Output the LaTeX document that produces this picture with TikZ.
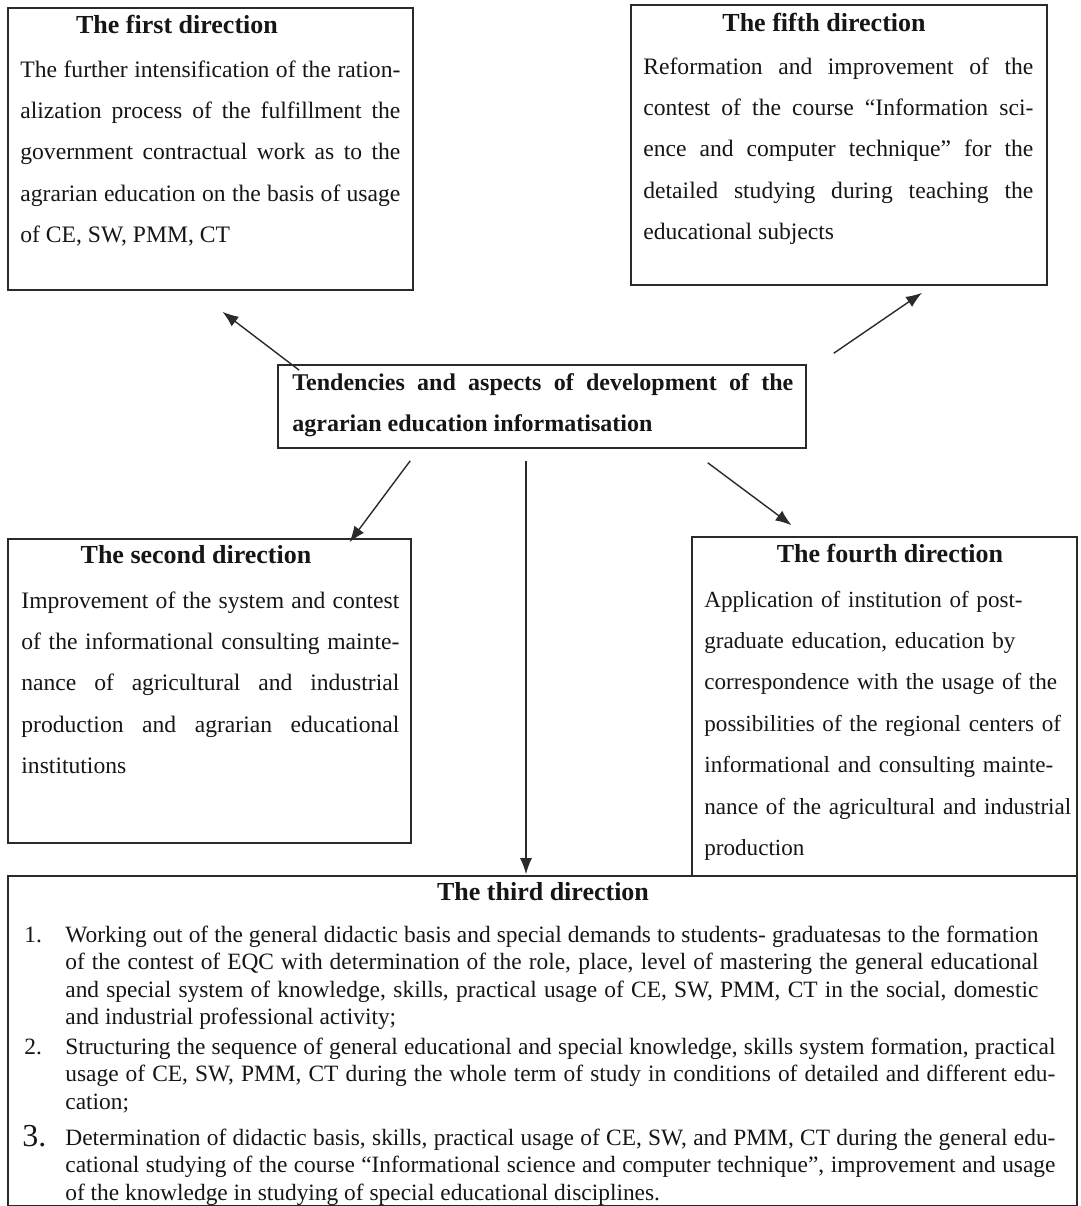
\documentclass[tikz,border=0pt]{standalone}
\usepackage{fontspec}
\setmainfont{Liberation Serif}
\usepackage{tikz}
\usetikzlibrary{arrows.meta,fit,calc}
\definecolor{ink}{HTML}{161616}
\definecolor{frame}{HTML}{2A2A2A}
\hyphenpenalty=10000
\tolerance=9999
\tikzset{
  >={Latex[length=8pt,width=6pt]},
  dirbox/.style={draw=frame,inner sep=0pt,line width=0.8pt},
  dirtitle/.style={inner sep=0pt,anchor=base,text=ink,font=\fontsize{13}{15}\selectfont\bfseries},
  dirtext/.style={inner sep=0pt,anchor=base west,text=ink,align=justify,font=\fontsize{11.8}{20.7}\selectfont},
  hubtext/.style={dirtext,font=\fontsize{12}{20.7}\selectfont\bfseries},
  listtext/.style={dirtext,font=\fontsize{11.7}{13.8}\selectfont},
  listnum/.style={inner sep=0pt,anchor=base west,text=ink,font=\fontsize{11.7}{13.8}\selectfont},
  arr/.style={->,draw=frame,line width=0.7pt},
}
\begin{document}
\begin{tikzpicture}[x=0.5pt,y=-0.5pt]
  \useasboundingbox[fill=white] (0,0) rectangle (1081,1206);
  \node[dirbox,fit={(8,8) (413,290)}] (first) {};
  \node[dirbox,fit={(631,5) (1047,285)}] (fifth) {};
  \node[dirbox,fit={(278,365) (806,448)}] (hub) {};
  \node[dirbox,fit={(8,539) (411,843)}] (second) {};
  \node[dirbox,fit={(692,537) (1077,876)}] (fourth) {};
  \node[dirbox,fit={(8,876) (1077,1205.5)}] (third) {};
  % texts
  \node[dirtitle] (firstT) at (177,33) {The first direction};
  \node[dirtext,text width=190pt] (firstB) at (20,77) {The further intensification of the ration-\linebreak alization process of the fulfillment the\linebreak government contractual work as to the\linebreak agrarian education on the basis of usage\linebreak of CE, SW, PMM, CT};
  \node[dirtitle] (fifthT) at (824,31) {The fifth direction};
  \node[dirtext,text width=195pt] (fifthB) at (643,74) {Reformation and improvement of the\linebreak contest of the course “Information sci-\linebreak ence and computer technique” for the\linebreak detailed studying during teaching the\linebreak educational subjects};
  \node[hubtext,text width=250.5pt] (hubT) at (292,390) {Tendencies and aspects of development of the\linebreak agrarian education informatisation};
  \node[dirtitle] (secondT) at (196,563) {The second direction};
  \node[dirtext,text width=189pt] (secondB) at (21,608) {Improvement of the system and contest\linebreak of the informational consulting mainte-\linebreak nance of agricultural and industrial\linebreak production and agrarian educational\linebreak institutions};
  \node[dirtitle] (fourthT) at (890,562) {The fourth direction};
  \node[dirtext,align=left,text width=186pt,font=\fontsize{11.55}{20.7}\selectfont] (fourthB) at (704,607) {Application of institution of post-\\graduate education, education by\\correspondence with the usage of the\\possibilities of the regional centers of\\informational and consulting mainte-\\nance of the agricultural and industrial\\production};
  \node[dirtitle] (thirdT) at (543,900) {The third direction};
  \foreach \i/\y in {1/942,2/1054} \node[listnum] (num\i) at (24,\y) {\i.};
  \node[listnum,font=\fontsize{16}{16}\selectfont] (num3) at (22,1146) {3.};
  \node[listtext,text width=486.5pt] (item1) at (65,942) {Working out of the general didactic basis and special demands to students- graduatesas to the formation\linebreak of the contest of EQC with determination of the role, place, level of mastering the general educational\linebreak and special system of knowledge, skills, practical usage of CE, SW, PMM, CT in the social, domestic\linebreak and industrial professional activity;};
  \node[listtext,text width=495pt] (item2) at (65,1054) {Structuring the sequence of general educational and special knowledge, skills system formation, practical\linebreak usage of CE, SW, PMM, CT during the whole term of study in conditions of detailed and different edu-\linebreak cation;};
  \node[listtext,text width=495pt] (item3) at (65,1145) {Determination of didactic basis, skills, practical usage of CE, SW, and PMM, CT during the general edu-\linebreak cational studying of the course “Informational science and computer technique”, improvement and usage\linebreak of the knowledge in studying of special educational disciplines.};
  % arrows
  \draw[arr] ($(hub.north west)+(22,6)$) -- ($(first.south)+(12,21)$);
  \draw[arr] ($(hub.north east)+(27,-11)$) -- ($(fifth.south)+(83,7)$);
  \draw[arr] ($(hub.south west)+(133,12)$) -- ($(second.north)+(140,4)$);
  \draw[arr] ($(hub.south east)+(-99,14)$) -- ($(fourth.north)+(-93,-11)$);
  \draw[arr] ($(hub.south)+(-16,12)$) -- ($(third.north)+(-16.5,-1)$);
\end{tikzpicture}
\end{document}
